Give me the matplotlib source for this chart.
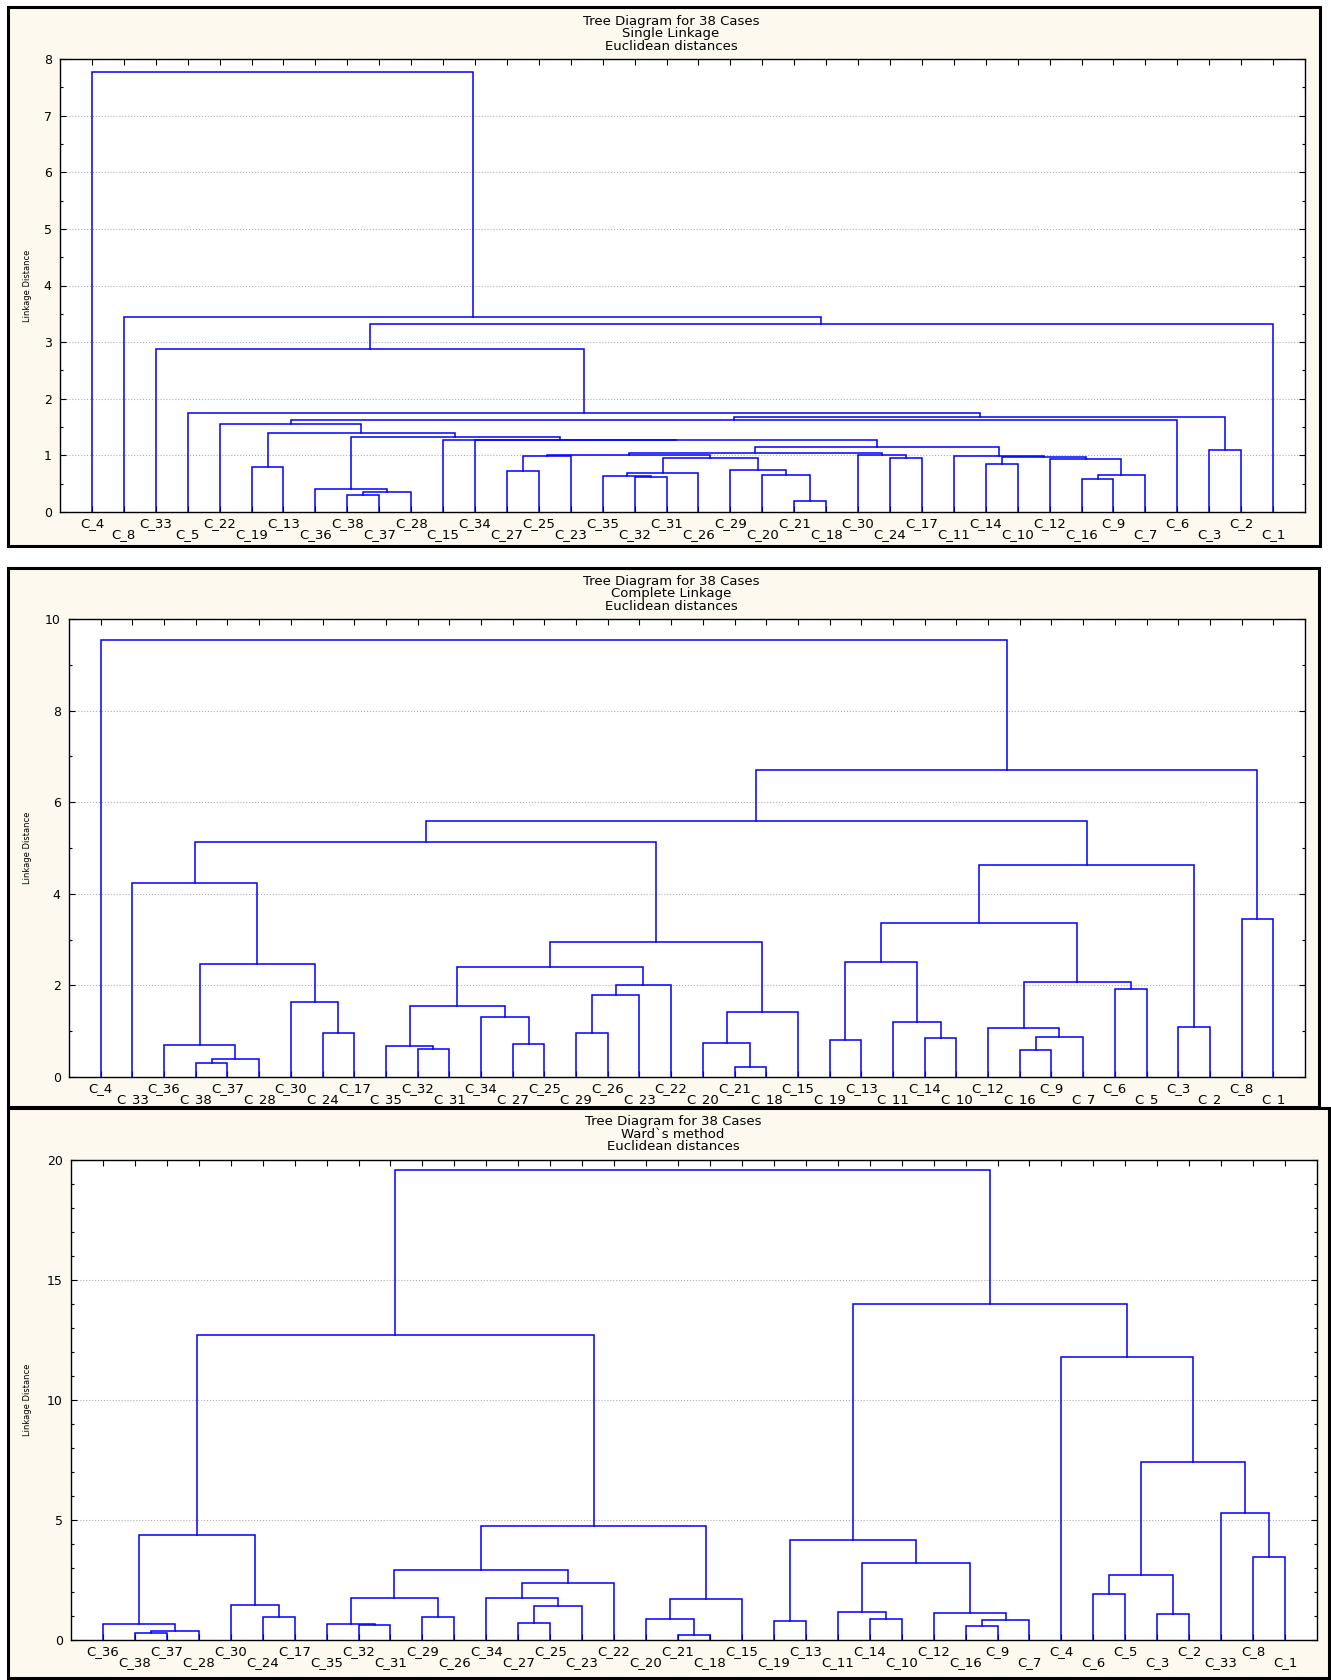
import matplotlib
matplotlib.use("Agg")
import matplotlib.pyplot as plt
from matplotlib.patches import Rectangle
from matplotlib.ticker import MultipleLocator

# leaf order along the x axis of each tree
leaves_single = ["C_4", "C_8", "C_33", "C_5", "C_22", "C_19", "C_13", "C_36", "C_38", "C_37",
                 "C_28", "C_15", "C_34", "C_27", "C_25", "C_23", "C_35", "C_32", "C_31", "C_26",
                 "C_29", "C_20", "C_21", "C_18", "C_30", "C_24", "C_17", "C_11", "C_14", "C_10",
                 "C_12", "C_16", "C_9", "C_7", "C_6", "C_3", "C_2", "C_1"]
leaves_complete = ["C_4", "C_33", "C_36", "C_38", "C_37", "C_28", "C_30", "C_24", "C_17", "C_35",
                   "C_32", "C_31", "C_34", "C_27", "C_25", "C_29", "C_26", "C_23", "C_22", "C_20",
                   "C_21", "C_18", "C_15", "C_19", "C_13", "C_11", "C_14", "C_10", "C_12", "C_16",
                   "C_9", "C_7", "C_6", "C_5", "C_3", "C_2", "C_8", "C_1"]
leaves_ward = ["C_36", "C_38", "C_37", "C_28", "C_30", "C_24", "C_17", "C_35", "C_32", "C_31",
               "C_29", "C_26", "C_34", "C_27", "C_25", "C_23", "C_22", "C_20", "C_21", "C_18",
               "C_15", "C_19", "C_13", "C_11", "C_14", "C_10", "C_12", "C_16", "C_9", "C_7",
               "C_4", "C_6", "C_5", "C_3", "C_2", "C_33", "C_8", "C_1"]

# merges: (left, right, linkage distance); an int refers to an earlier merge in the list
merges_single = [
    ("C_38", "C_37", 0.30), (0, "C_28", 0.35), ("C_36", 1, 0.41), ("C_19", "C_13", 0.79),
    ("C_27", "C_25", 0.72), (4, "C_23", 0.99), ("C_32", "C_31", 0.61), ("C_35", 6, 0.64),
    (7, "C_26", 0.68), ("C_21", "C_18", 0.20), ("C_20", 9, 0.65), ("C_29", 10, 0.74),
    (8, 11, 0.96), (5, 12, 1.01), ("C_24", "C_17", 0.96), ("C_30", 14, 1.01),
    (13, 15, 1.05), ("C_14", "C_10", 0.85), ("C_16", "C_9", 0.58), (18, "C_7", 0.65),
    ("C_12", 19, 0.93), (17, 20, 0.98), ("C_11", 21, 0.99), (16, 22, 1.14),
    ("C_34", 23, 1.27), ("C_15", 24, 1.28), (2, 25, 1.33), (3, 26, 1.40),
    ("C_22", 27, 1.56), (28, "C_6", 1.62), ("C_3", "C_2", 1.09), (29, 30, 1.67),
    ("C_5", 31, 1.75), ("C_33", 32, 2.87), (33, "C_1", 3.32), ("C_8", 34, 3.45),
    ("C_4", 35, 7.77),
]
merges_complete = [
    ("C_38", "C_37", 0.31), (0, "C_28", 0.39), ("C_36", 1, 0.70), ("C_24", "C_17", 0.96),
    ("C_30", 3, 1.63), (2, 4, 2.47), ("C_33", 5, 4.24), ("C_32", "C_31", 0.62),
    ("C_35", 7, 0.68), ("C_27", "C_25", 0.72), ("C_34", 9, 1.32), (8, 10, 1.55),
    ("C_29", "C_26", 0.96), (12, "C_23", 1.80), (13, "C_22", 2.00), (11, 14, 2.40),
    ("C_21", "C_18", 0.21), ("C_20", 16, 0.74), (17, "C_15", 1.42), (15, 18, 2.95),
    (6, 19, 5.14), ("C_19", "C_13", 0.80), ("C_14", "C_10", 0.86), ("C_11", 22, 1.20),
    (21, 23, 2.51), ("C_16", "C_9", 0.60), (25, "C_7", 0.88), ("C_12", 26, 1.08),
    ("C_6", "C_5", 1.93), (27, 28, 2.08), (24, 29, 3.37), ("C_3", "C_2", 1.09),
    (30, 31, 4.62), (20, 32, 5.58), ("C_8", "C_1", 3.45), (33, 34, 6.70),
    ("C_4", 35, 9.55),
]
merges_ward = [
    ("C_38", "C_37", 0.29), (0, "C_28", 0.39), ("C_36", 1, 0.67), ("C_24", "C_17", 0.96),
    ("C_30", 3, 1.44), (2, 4, 4.37), ("C_32", "C_31", 0.62), ("C_35", 6, 0.67),
    ("C_29", "C_26", 0.96), (7, 8, 1.75), ("C_27", "C_25", 0.72), (10, "C_23", 1.42),
    ("C_34", 11, 1.74), (12, "C_22", 2.38), (9, 13, 2.92), ("C_21", "C_18", 0.21),
    ("C_20", 15, 0.875), (16, "C_15", 1.72), (14, 17, 4.75), (5, 18, 12.70),
    ("C_19", "C_13", 0.79), ("C_14", "C_10", 0.86), ("C_11", 21, 1.17), ("C_16", "C_9", 0.60),
    (23, "C_7", 0.83), ("C_12", 24, 1.14), (22, 25, 3.22), (20, 26, 4.17),
    ("C_6", "C_5", 1.93), ("C_3", "C_2", 1.08), (28, 29, 2.71), ("C_8", "C_1", 3.44),
    ("C_33", 31, 5.28), (30, 32, 7.43), ("C_4", 33, 11.81), (27, 34, 14.00),
    (19, 35, 19.60),
]

titles = [["Tree Diagram for 38 Cases", "Single Linkage", "Euclidean distances"],
          ["Tree Diagram for 38 Cases", "Complete Linkage", "Euclidean distances"],
          ["Tree Diagram for 38 Cases", "Ward`s method", "Euclidean distances"]]

W, H = 1331, 1680
CREAM = "#fdf9ee"
BLUE = "#0000ff"
FONT = "DejaVu Sans"
plt.rcParams["font.family"] = FONT

fig = plt.figure(figsize=(W / 100, H / 100), dpi=100)
fig.patch.set_facecolor("white")


def px_axes(l, t, r, b):
    ax = fig.add_axes([l / W, 1 - b / H, (r - l) / W, (b - t) / H])
    ax.set_zorder(2)
    return ax


def frame(l, t, r, b):
    rect = Rectangle((l / W, 1 - b / H), (r - l) / W, (b - t) / H,
                     transform=fig.transFigure, facecolor=CREAM,
                     edgecolor="black", lw=2.2, zorder=-5)
    fig.add_artist(rect)


def draw_tree(ax, leaves, merges):
    xpos = {name: i + 1 for i, name in enumerate(leaves)}
    node_x, node_h = [], []

    def get(c):
        if isinstance(c, str):
            return xpos[c], 0.0
        return node_x[c], node_h[c]

    for a, b, h in merges:
        xa, ha = get(a)
        xb, hb = get(b)
        ax.plot([xa, xa, xb, xb], [ha, h, h, hb], color=BLUE, lw=1.1,
                solid_joinstyle="miter", zorder=3)
        node_x.append((xa + xb) / 2)
        node_h.append(h)


panels = [
    # frame box, axes box (pixels), leaves, merges, ymax, major, minor, title x
    ((8, 7, 1320, 546), (60, 59, 1305, 512), leaves_single, merges_single, 8, 1, 0.5, 671),
    ((8, 568, 1319, 1107), (69, 619, 1305, 1077), leaves_complete, merges_complete, 10, 2, 1, 671),
    ((8, 1108, 1329, 1678), (71, 1160, 1317, 1640), leaves_ward, merges_ward, 20, 5, 1, 673),
]

for (fr, box, leaves, merges, ymax, major, minor, tx), title in zip(panels, titles):
    frame(*fr)
    l, t, r, b = box
    ax = px_axes(l, t, r, b)
    ax.set_facecolor("white")
    draw_tree(ax, leaves, merges)
    ax.set_xlim(0, len(leaves) + 1)
    ax.set_ylim(0, ymax)

    ax.set_xticks(range(1, len(leaves) + 1))
    ax.set_xticklabels([n if i % 2 == 0 else "\n" + n for i, n in enumerate(leaves)],
                       fontsize=9.5, linespacing=0.8)
    ax.yaxis.set_major_locator(MultipleLocator(major))
    ax.yaxis.set_minor_locator(MultipleLocator(minor))
    ax.tick_params(axis="both", which="both", direction="in", top=True, right=True,
                   colors="black")
    ax.tick_params(axis="y", labelsize=9)
    ax.tick_params(axis="both", which="major", length=4, width=0.8)
    ax.tick_params(axis="y", which="minor", length=2.5, width=0.8)
    ax.tick_params(axis="x", pad=3.5)
    ax.tick_params(axis="y", pad=6)
    ax.grid(axis="y", which="major", color="#b0b0b0", linestyle=":", lw=0.8, zorder=1)
    for s in ax.spines.values():
        s.set_color("black")
        s.set_linewidth(1.0)

    fig.text(27 / W, 1 - (t + b) / 2 / H, "Linkage Distance", rotation=90,
             fontsize=6, ha="center", va="center")
    for k, line in enumerate(title):
        fig.text(tx / W, 1 - (t - 38 + 12.5 * k) / H, line, fontsize=9.5,
                 ha="center", va="center")

fig.savefig("out.png", dpi=100, facecolor="white")
